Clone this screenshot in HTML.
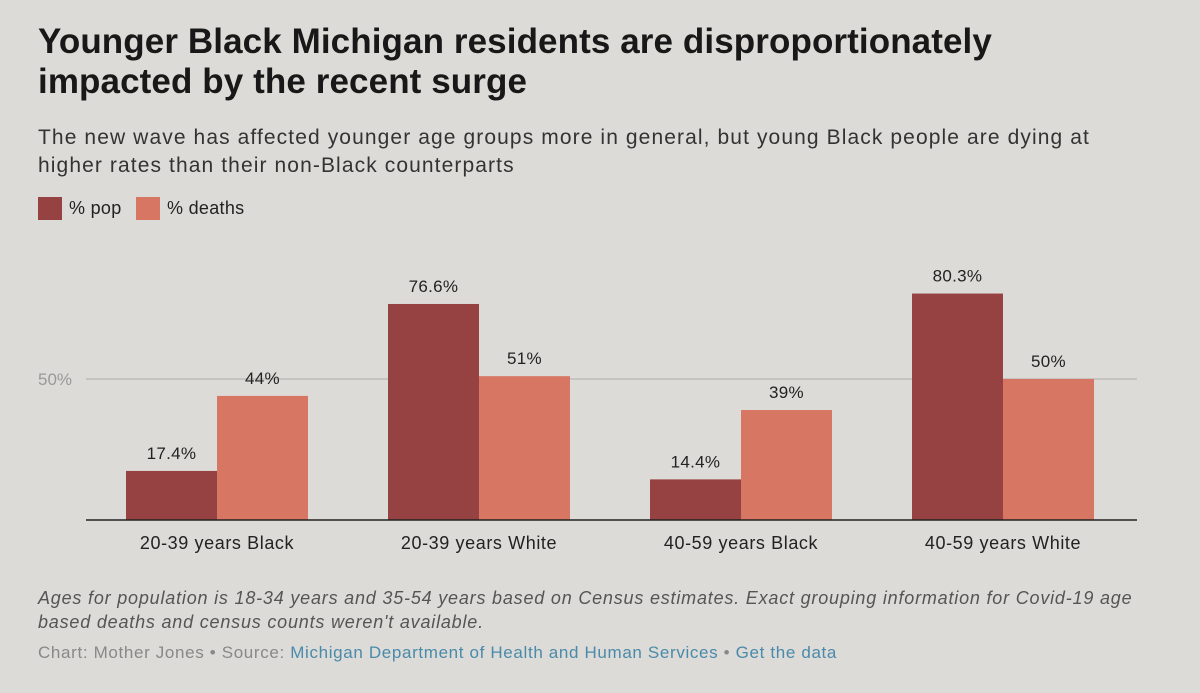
<!DOCTYPE html>
<html><head><meta charset="utf-8"><style>
body{margin:0;width:1200px;height:693px;background:#dcdbd7;font-family:"Liberation Sans",sans-serif;position:relative;overflow:hidden;color:#222}
.a{position:absolute;white-space:nowrap}
h1{position:absolute;left:38px;top:22px;margin:0;font-size:35px;line-height:40px;font-weight:bold;color:#181818;letter-spacing:0.1px;white-space:nowrap}
.sub{left:38px;top:124px;font-size:21px;line-height:28px;color:#333;letter-spacing:1.1px}
.note{left:38px;top:586px;font-size:18px;line-height:24px;font-style:italic;color:#555;letter-spacing:0.8px}
.src{left:38px;top:643px;font-size:17px;color:#888;letter-spacing:0.65px}
.src span{color:#4a8aaa}
.sw{position:absolute;width:24px;height:23px;top:197px}
.lg{top:198px;font-size:18px;letter-spacing:0.3px}
</style></head><body>
<h1>Younger Black Michigan residents are disproportionately<br>impacted by the recent surge</h1>
<div class="a sub">The new wave has affected younger age groups more in general, but young Black people are dying at<br>higher rates than their non-Black counterparts</div>
<div class="sw" style="left:38px;background:#974242"></div>
<div class="a lg" style="left:69px">% pop</div>
<div class="sw" style="left:136px;background:#d77663"></div>
<div class="a lg" style="left:167px">% deaths</div>
<svg id="c" width="1200" height="693" style="position:absolute;left:0;top:0"></svg>
<div class="a note">Ages for population is 18-34 years and 35-54 years based on Census estimates. Exact grouping information for Covid-19 age<br>based deaths and census counts weren't available.</div>
<div class="a src">Chart: Mother Jones • Source: <span>Michigan Department of Health and Human Services</span> • <span>Get the data</span></div>
<script>
const categories=["20-39 years Black","20-39 years White","40-59 years Black","40-59 years White"];
const popValues=[17.4,76.6,14.4,80.3];
const deathValues=[44,51,39,50];
const popLabels=["17.4%","76.6%","14.4%","80.3%"];
const deathLabels=["44%","51%","39%","50%"];
const yTicks=[50];
const svg=document.getElementById('c');const NS='http://www.w3.org/2000/svg';
const base=520,perPct=141/50,x0=86,x1=1137,gw=262,bw=91;
const y=v=>base-v*perPct;
const xc=i=>x0+gw*(i+0.5);
function mk(t,a,txt){const e=document.createElementNS(NS,t);for(const k in a)e.setAttribute(k,a[k]);if(txt!=null)e.textContent=txt;svg.appendChild(e);return e;}
yTicks.forEach(t=>{
 const l=mk('line',{x1:x0,x2:x1,y1:y(t),y2:y(t),stroke:'#bdbcb8','stroke-width':1.5});
 
 
 const tx=mk('text',{x:38,y:y(t)+6,'font-size':17,fill:'#999','font-family':'Liberation Sans'},t+'%');
 
 
});
categories.forEach((c,i)=>{
 const cx=xc(i);
 const r1=mk('rect',{x:cx-bw,y:y(popValues[i]),width:bw,height:popValues[i]*perPct,fill:'#974242'});
 
 
 const r2=mk('rect',{x:cx,y:y(deathValues[i]),width:bw,height:deathValues[i]*perPct,fill:'#d77663'});
 
 
 const l1=mk('text',{x:cx-bw/2,y:y(popValues[i])-12,'text-anchor':'middle','font-size':17,fill:'#222','font-family':'Liberation Sans','letter-spacing':0.3},popLabels[i]);
 
 
 const l2=mk('text',{x:cx+bw/2,y:y(deathValues[i])-12,'text-anchor':'middle','font-size':17,fill:'#222','font-family':'Liberation Sans','letter-spacing':0.3},deathLabels[i]);
 
 
 const cl=mk('text',{x:cx,y:549,'text-anchor':'middle','font-size':18,fill:'#222','font-family':'Liberation Sans','letter-spacing':0.6},c);
 
 
});
const ax=mk('line',{x1:x0,x2:x1,y1:base,y2:base,stroke:'#222','stroke-width':1.5});


</script>
</body></html>
